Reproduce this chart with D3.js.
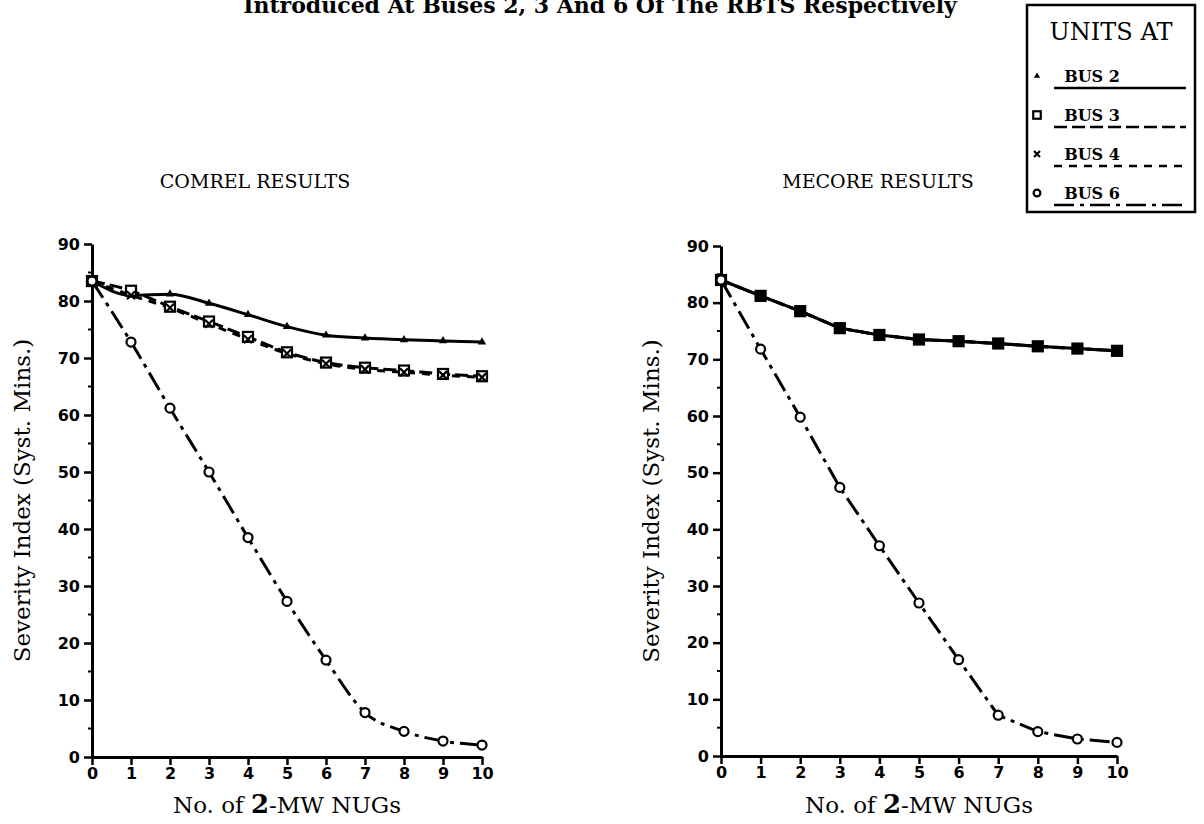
<!DOCTYPE html>
<html>
<head>
<meta charset="utf-8">
<script src="https://cdn.jsdelivr.net/npm/d3@7"></script>
<style>
  body { margin: 0; background: #fff; }
  svg { display: block; }
  .tick text { font-family: "DejaVu Sans", sans-serif; font-weight: bold; font-size: 16px; }
</style>
</head>
<body>
<svg id="chart" width="1204" height="824"></svg>
<script>
// x values: number of 2-MW NUGs
var nugs = [0, 1, 2, 3, 4, 5, 6, 7, 8, 9, 10];

// COMREL results
var comrelBus2 = [83.5, 81.0, 81.2, 79.6, 77.6, 75.5, 74.0, 73.5, 73.2, 73.0, 72.8];
var comrelBus3 = [83.5, 81.8, 79.0, 76.4, 73.7, 71.0, 69.2, 68.3, 67.8, 67.2, 66.8];
var comrelBus4 = [83.5, 81.0, 78.8, 76.0, 73.3, 70.8, 69.0, 68.0, 67.5, 67.0, 66.6];
var comrelBus6 = [83.5, 72.8, 61.2, 50.0, 38.5, 27.3, 17.0, 7.8, 4.5, 2.8, 2.1];

// MECORE results
var mecoreBus2 = [84.0, 81.2, 78.5, 75.5, 74.3, 73.5, 73.2, 72.8, 72.3, 71.9, 71.5];
var mecoreBus3 = [84.0, 81.2, 78.5, 75.5, 74.3, 73.5, 73.2, 72.8, 72.3, 71.9, 71.5];
var mecoreBus4 = [84.0, 81.2, 78.5, 75.5, 74.3, 73.5, 73.2, 72.8, 72.3, 71.9, 71.5];
var mecoreBus6 = [84.0, 71.8, 59.8, 47.4, 37.1, 27.0, 17.0, 7.2, 4.3, 3.0, 2.4];

var yTicks = [0, 10, 20, 30, 40, 50, 60, 70, 80, 90];
var legendLabels = ['BUS 2', 'BUS 3', 'BUS 4', 'BUS 6'];

var seriesStyle = [
  { marker: 'triangle', dash: null },
  { marker: 'square', dash: '13,5' },
  { marker: 'cross', dash: '8,7' },
  { marker: 'circle', dash: '20,6,4,6' }
];

var svg = d3.select('#chart');
var serif = '"DejaVu Serif", serif';

// title, cut off at the top of the page as in the scan
svg.append('text')
  .attr('x', 600).attr('y', 13)
  .attr('text-anchor', 'middle')
  .style('font-family', serif).style('font-weight', 'bold').style('font-size', '22px')
  .text('Introduced At Buses 2, 3 And 6 Of The RBTS Respectively');

function drawMarker(g, type, x, y, size, filled) {
  var s = size || 1;
  if (type === 'circle') {
    g.append('circle').attr('cx', x).attr('cy', y).attr('r', 4.5 * s)
      .attr('fill', '#fff').attr('stroke', '#000').attr('stroke-width', 2.2);
  } else if (type === 'square') {
    g.append('rect').attr('x', x - 5 * s).attr('y', y - 5 * s).attr('width', 10 * s).attr('height', 10 * s)
      .attr('fill', filled ? '#000' : '#fff').attr('stroke', '#000').attr('stroke-width', 2.2);
  } else if (type === 'triangle') {
    g.append('path').attr('d', d3.symbol(d3.symbolTriangle, 30 * s * s)())
      .attr('transform', `translate(${x},${y})`).attr('fill', '#000');
  } else {
    var r = 4 * s;
    g.append('path').attr('d', `M${x-r},${y-r}L${x+r},${y+r}M${x-r},${y+r}L${x+r},${y-r}`)
      .attr('stroke', '#000').attr('stroke-width', 2.2);
  }
}

function drawPanel(opts) {
  var g = svg.append('g');
  var x = d3.scaleLinear().domain([0, 10]).range([opts.left, opts.right]);
  var y = d3.scaleLinear().domain([0, 90]).range([opts.bottom, opts.top]);

  // panel title
  g.append('text')
    .attr('x', opts.titleX).attr('y', 188)
    .attr('text-anchor', 'middle')
    .style('font-family', serif).style('font-size', '19px')
    .text(opts.title);

  // minor y ticks at fives
  var minor = d3.range(5, 90, 10);
  g.selectAll('.minor').data(minor).enter().append('line')
    .attr('x1', opts.left - 4).attr('x2', opts.left)
    .attr('y1', d => y(d)).attr('y2', d => y(d))
    .attr('stroke', '#000').attr('stroke-width', 2);

  var yAxis = g.append('g')
    .attr('transform', `translate(${opts.left},0)`)
    .call(d3.axisLeft(y).tickValues(yTicks).tickSize(8).tickSizeOuter(0).tickPadding(4));
  var xAxis = g.append('g')
    .attr('transform', `translate(0,${opts.bottom})`)
    .call(d3.axisBottom(x).tickValues(nugs).tickSize(8).tickSizeOuter(0).tickPadding(3));
  [yAxis, xAxis].forEach(function(a) {
    a.select('.domain').attr('stroke-width', 3);
    a.selectAll('.tick line').attr('stroke-width', 2.5);
  });

  // axis labels
  g.append('text')
    .attr('transform', `translate(${opts.left - 62},${(opts.top + opts.bottom) / 2}) rotate(-90)`)
    .attr('text-anchor', 'middle')
    .style('font-family', serif).style('font-size', '23px')
    .text('Severity Index (Syst. Mins.)');
  var xl = g.append('text')
    .attr('x', (opts.left + opts.right) / 2).attr('y', 813)
    .attr('text-anchor', 'middle')
    .style('font-family', serif).style('font-size', '23px');
  xl.append('tspan').text('No. of ');
  xl.append('tspan').style('font-weight', 'bold').style('font-size', '26px').text('2');
  xl.append('tspan').text('-MW NUGs');

  var line = d3.line().curve(opts.curve).x((d, i) => x(nugs[i])).y(d => y(d));
  opts.series.forEach(function(vals, k) {
    g.append('path').datum(vals)
      .attr('d', line)
      .attr('fill', 'none').attr('stroke', '#000').attr('stroke-width', 3)
      .attr('stroke-dasharray', seriesStyle[k].dash);
  });
  opts.series.forEach(function(vals, k) {
    vals.forEach(function(v, i) {
      drawMarker(g, seriesStyle[k].marker, x(nugs[i]), y(v), 1, opts.filled);
    });
  });
}

drawPanel({
  left: 92, right: 482, top: 244, bottom: 757, titleX: 255,
  title: 'COMREL RESULTS', curve: d3.curveMonotoneX, filled: false,
  series: [comrelBus2, comrelBus3, comrelBus4, comrelBus6]
});

drawPanel({
  left: 721, right: 1117, top: 246, bottom: 756, titleX: 878,
  title: 'MECORE RESULTS', curve: d3.curveLinear, filled: true,
  series: [mecoreBus2, mecoreBus3, mecoreBus4, mecoreBus6]
});

// legend box
var leg = svg.append('g');
leg.append('rect').attr('x', 1027).attr('y', 5).attr('width', 168).attr('height', 207)
  .attr('fill', '#fff').attr('stroke', '#000').attr('stroke-width', 2.5);
leg.append('text').attr('x', 1111).attr('y', 40).attr('text-anchor', 'middle')
  .style('font-family', serif).style('font-size', '24px').text('UNITS AT');
legendLabels.forEach(function(lbl, k) {
  var cy = 76 + k * 39;
  drawMarker(leg, seriesStyle[k].marker, 1037, cy, 0.75, false);
  leg.append('text').attr('x', 1092).attr('y', cy + 6).attr('text-anchor', 'middle')
    .style('font-family', serif).style('font-weight', 'bold').style('font-size', '16px')
    .text(lbl);
  leg.append('line').attr('x1', 1054).attr('x2', 1186).attr('y1', cy + 12).attr('y2', cy + 12)
    .attr('stroke', '#000').attr('stroke-width', 2.5)
    .attr('stroke-dasharray', seriesStyle[k].dash);
});
</script>
</body>
</html>
